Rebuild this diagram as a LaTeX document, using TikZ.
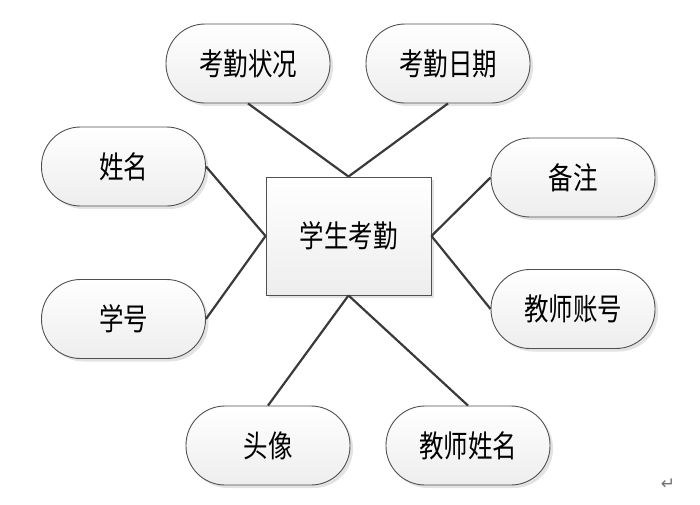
\documentclass[tikz,border=0pt]{standalone}
\usepackage{fontspec}
\newfontfamily\cjk{Noto Sans CJK SC}
\newfontfamily\dejavu{DejaVu Sans}
\usetikzlibrary{shadows}
\definecolor{edgecol}{HTML}{3A3A3A}
\definecolor{bordercol}{HTML}{505050}
\newcommand{\tallcjk}[1]{\scalebox{1}[1.25]{\cjk\fontsize{24.5}{28}\selectfont #1}}
\tikzset{
  attr/.style={draw=bordercol, line width=0.9pt, rectangle, rounded corners=39pt,
    minimum width=164pt, minimum height=79pt, inner sep=0pt,
    top color=white, bottom color=black!7,
    drop shadow={opacity=0.22, shadow xshift=3pt, shadow yshift=-3pt}},
  entity/.style={draw=bordercol, line width=0.9pt, rectangle,
    minimum width=165pt, minimum height=118pt, inner sep=0pt,
    top color=white, bottom color=black!7,
    drop shadow={opacity=0.22, shadow xshift=3pt, shadow yshift=-3pt}},
  link/.style={draw=edgecol, line width=2.2pt}
}
\begin{document}
\begin{tikzpicture}[x=1pt,y=-1pt]
\useasboundingbox (0,0) rectangle (700,504);
\node[entity] (c) at (348.5,236) {\tallcjk{学生考勤}};
\node[attr] (a1) at (248,63.5) {\tallcjk{考勤状况}};
\node[attr] (a2) at (448,63.5) {\tallcjk{考勤日期}};
\node[attr] (a3) at (123.5,166.5) {\tallcjk{姓名}};
\node[attr] (a4) at (123.5,319) {\tallcjk{学号}};
\node[attr] (a5) at (573,177.5) {\tallcjk{备注}};
\node[attr] (a6) at (573,309) {\tallcjk{教师账号}};
\node[attr] (a7) at (268,445.5) {\tallcjk{头像}};
\node[attr] (a8) at (468,445.5) {\tallcjk{教师姓名}};
\node[text=black!55, font=\dejavu\fontsize{17}{19}\selectfont] (ret) at (668,484) {↵};
\draw[link] (a1.south) -- (c.north);
\draw[link] (a2.south) -- (c.north);
\draw[link] (a3.east) -- (c.west);
\draw[link] (a4.east) -- (c.west);
\draw[link] (a5.west) -- (c.east);
\draw[link] (a6.west) -- (c.east);
\draw[link] (a7.north) -- (c.south);
\draw[link] (a8.north) -- (c.south);
\end{tikzpicture}
\end{document}
